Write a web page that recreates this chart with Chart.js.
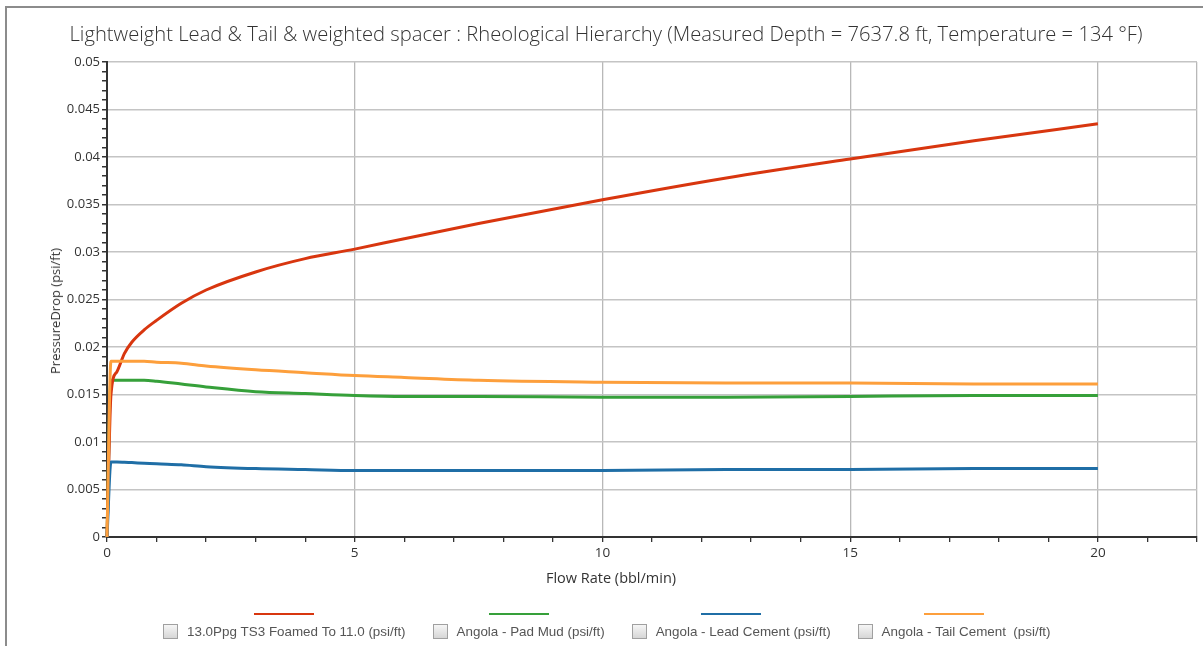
<!DOCTYPE html>
<html>
<head>
<meta charset="utf-8">
<script src="https://cdn.jsdelivr.net/npm/chart.js@4.4.1/dist/chart.umd.min.js"></script>
<style>
    body { margin: 0; background: #fff; font-family: "Open Sans", sans-serif; }
    #wrap { position: relative; width: 1203px; height: 646px; overflow: hidden; }
    #frame { position: absolute; left: 5px; top: 6px; width: 1210px; height: 660px; border-left: 2px solid #8c8c8c; border-top: 2px solid #8c8c8c; }
    #chart { position: absolute; left: 0; top: 0; }
    #title { position: absolute; top: 19px; left: 0; width: 1212px; text-align: center; font-size: 20.2px; font-weight: 300; color: #333; white-space: nowrap; }
    .axisTitle { position: absolute; font-size: 13px; color: #333; white-space: nowrap; transform: translate(-50%, -50%); }
    #yTitle { left: 55px; top: 311px; transform: translate(-50%, -50%) rotate(-90deg); }
    #xTitle { left: 611px; top: 577px; font-size: 14.5px; }
    #legend { position: absolute; left: 163px; top: 613px; display: flex; gap: 27px; font-family: "Liberation Sans", Arial, sans-serif; font-size: 13.4px; color: #555; }
    .item { display: flex; flex-direction: column; align-items: center; }
    .item .swatch { width: 60px; height: 2px; margin-bottom: 9px; }
    .item .row { display: flex; align-items: center; }
    .item .box { width: 13px; height: 13px; border: 1px solid #a0a0a0; background: linear-gradient(#f6f6f6, #d6d6d6); margin-right: 9px; }
</style>
</head>
<body>
<div id="wrap">
    <div id="frame"></div>
    <canvas id="chart" width="1203" height="646"></canvas>
    <div id="title">Lightweight Lead &amp; Tail &amp; weighted spacer : Rheological Hierarchy (Measured Depth = 7637.8 ft, Temperature = 134 °F)</div>
    <div id="yTitle" class="axisTitle">PressureDrop (psi/ft)</div>
    <div id="xTitle" class="axisTitle">Flow Rate (bbl/min)</div>
    <div id="legend"></div>
</div>
<script>
// flow rate (bbl/min) shared by all series
const flowRate = [0, 0.08, 0.2, 0.35, 0.5, 0.75, 1, 1.5, 2, 3, 4, 5, 6, 7.5, 10, 12.5, 15, 17.5, 20];

// pressure drop (psi/ft)
const foamed = [0, 0.0150, 0.0174, 0.0193, 0.0205, 0.0218, 0.0228, 0.0246, 0.0260, 0.0279, 0.0293, 0.0303, 0.0314, 0.0330, 0.0355, 0.0378, 0.0398, 0.0417, 0.0435];
const padMud = [0, 0.0165, 0.0165, 0.0165, 0.0165, 0.0165, 0.0164, 0.0161, 0.0158, 0.0153, 0.0151, 0.0149, 0.0148, 0.0148, 0.0147, 0.0147, 0.0148, 0.0149, 0.0149];
const leadCement = [0, 0.0079, 0.0079, 0.00787, 0.00783, 0.00777, 0.0077, 0.0076, 0.0074, 0.0072, 0.0071, 0.0070, 0.0070, 0.0070, 0.0070, 0.0071, 0.0071, 0.0072, 0.0072];
const tailCement = [0, 0.0185, 0.0185, 0.0185, 0.0185, 0.0185, 0.0184, 0.0183, 0.0180, 0.0176, 0.0173, 0.0170, 0.0168, 0.0165, 0.0163, 0.0162, 0.0162, 0.0161, 0.0161];

const seriesNames = ['13.0Ppg TS3 Foamed To 11.0 (psi/ft)', 'Angola - Pad Mud (psi/ft)', 'Angola - Lead Cement (psi/ft)', 'Angola - Tail Cement  (psi/ft)'];
const seriesColors = ['#d8360f', '#36a03a', '#1f6ea6', '#fd9f3c'];
const seriesValues = [foamed, padMud, leadCement, tailCement];
const drawOrder = [2, 3, 1, 0];

const xTicks = [0, 5, 10, 15, 20];
const yTicks = [0, 0.005, 0.01, 0.015, 0.02, 0.025, 0.03, 0.035, 0.04, 0.045, 0.05];

// legend (html)
const legend = document.getElementById('legend');
seriesNames.forEach((name, i) => {
    const item = document.createElement('div');
    item.className = 'item';
    item.innerHTML = `<div class="swatch" style="background:${seriesColors[i]}"></div>
        <div class="row"><div class="box"></div><span>${name.replace(/ /g, '&nbsp;')}</span></div>`;
    legend.appendChild(item);
});

const isMajorX = v => xTicks.includes(Math.round(v)) && Math.abs(v - Math.round(v)) < 1e-6;
const isMajorY = v => yTicks.some(t => Math.abs(t - v) < 1e-7);

const datasets = seriesValues.map((vals, i) => ({
    label: seriesNames[i],
    data: flowRate.map((x, j) => ({ x: x, y: vals[j] })),
    borderColor: seriesColors[i],
    backgroundColor: seriesColors[i],
    borderWidth: 3,
    pointRadius: 0,
    cubicInterpolationMode: 'monotone',
    order: drawOrder[i],
    clip: false,
}));

new Chart(document.getElementById('chart').getContext('2d'), {
    type: 'line',
    data: { datasets: datasets },
    options: {
        responsive: false,
        animation: false,
        layout: { padding: { top: 62, right: 6, left: 0, bottom: 0 } },
        plugins: { legend: { display: false }, tooltip: { enabled: false }, title: { display: false } },
        scales: {
            x: {
                type: 'linear',
                min: 0,
                max: 22,
                afterFit: s => { s.height = 109; },
                ticks: {
                    stepSize: 1,
                    autoSkip: false,
                    maxRotation: 0,
                    padding: 3,
                    color: '#333',
                    font: { family: 'Open Sans', size: 13.5 },
                    callback: v => isMajorX(v) ? String(Math.round(v)) : '',
                },
                grid: {
                    color: c => (c.tick && (isMajorX(c.tick.value) || c.tick.value === 22)) ? '#b8b8b8' : 'rgba(0,0,0,0)',
                    lineWidth: 1.3,
                    tickColor: '#333',
                    tickLength: 5,
                },
                border: { color: '#333', width: 2 },
            },
            y: {
                min: 0,
                max: 0.05,
                afterFit: s => { s.width = 107; },
                ticks: {
                    stepSize: 0.001,
                    autoSkip: false,
                    padding: 2,
                    color: '#333',
                    font: { family: 'Open Sans', size: 13 },
                    callback: v => isMajorY(v) ? String(+v.toFixed(3)) : '',
                },
                grid: {
                    color: c => (c.tick && isMajorY(c.tick.value)) ? '#c4c4c4' : 'rgba(0,0,0,0)',
                    lineWidth: 1.5,
                    tickColor: '#333',
                    tickLength: 5,
                },
                border: { color: '#333', width: 2 },
            },
        },
    },
});
</script>
</body>
</html>
